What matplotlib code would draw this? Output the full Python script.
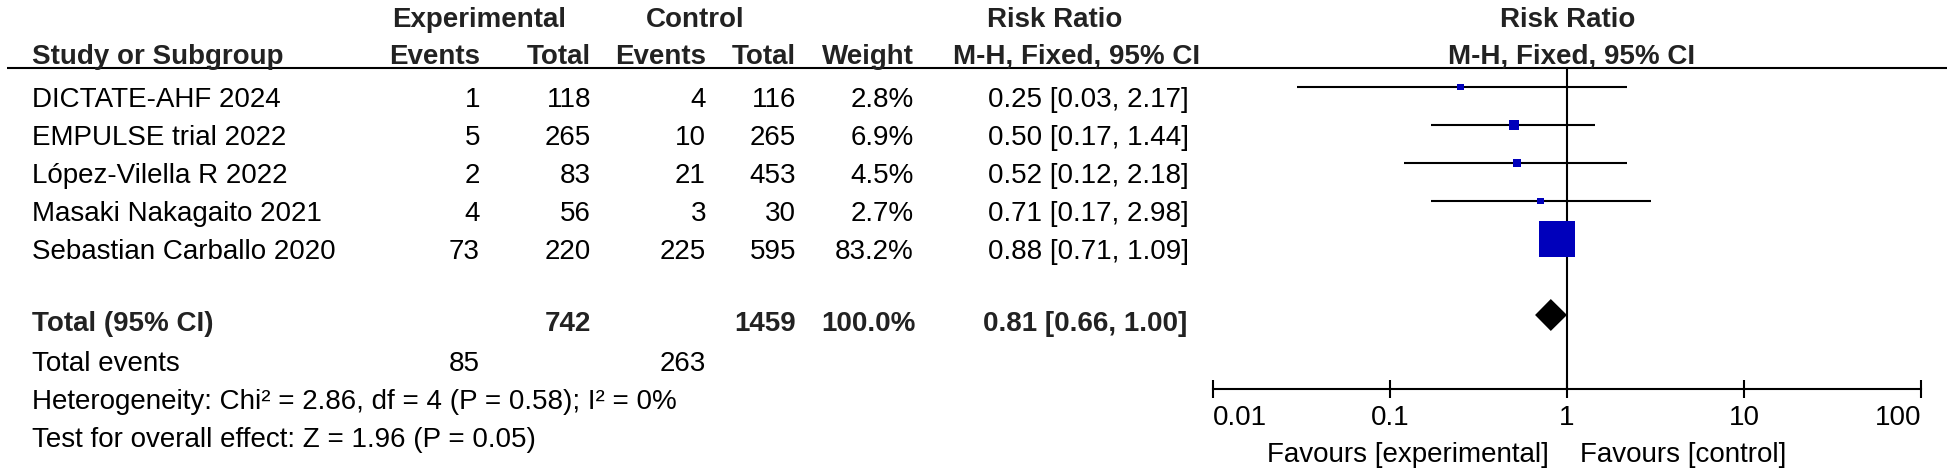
import matplotlib
matplotlib.use("Agg")
import matplotlib.pyplot as plt
import numpy as np
from matplotlib.ticker import NullLocator

plt.rcParams['font.family'] = ['Liberation Sans', 'DejaVu Sans']

# ---------------- data ----------------
studies = ["DICTATE-AHF 2024", "EMPULSE trial 2022", "López-Vilella R 2022",
           "Masaki Nakagaito 2021", "Sebastian Carballo 2020"]
exp_events = [1, 5, 2, 4, 73]
exp_total = [118, 265, 83, 56, 220]
ctrl_events = [4, 10, 21, 3, 225]
ctrl_total = [116, 265, 453, 30, 595]
weight = [2.8, 6.9, 4.5, 2.7, 83.2]
rr = [0.25, 0.50, 0.52, 0.71, 0.88]
rr_lo = [0.03, 0.17, 0.12, 0.17, 0.71]
rr_hi = [2.17, 1.44, 2.18, 2.98, 1.09]

total_exp = 742
total_ctrl = 1459
total_weight = 100.0
total_rr, total_lo, total_hi = 0.81, 0.66, 1.00
events_exp, events_ctrl = 85, 263
heterogeneity = "Heterogeneity: Chi² = 2.86, df = 4 (P = 0.58); I² = 0%"
overall = "Test for overall effect: Z = 1.96 (P = 0.05)"
tick_vals = [0.01, 0.1, 1, 10, 100]
tick_labels = ["0.01", "0.1", "1", "10", "100"]
col_headers = ["Events", "Total", "Events", "Total", "Weight"]

# ---------------- layout ----------------
W, H = 1955, 475
ROW0, ROW_H = 87, 38
HDR_Y, AX_Y = 68, 389
X0_PX, X1_PX = 1213, 1921
TOTAL_ROW = 6
FS = 20
BOLD_C = '#222222'
col_right = [480, 591, 706, 796, 914]
RR_RIGHT = 1189

fig = plt.figure(figsize=(W / 100, H / 100), dpi=100)
tab = fig.add_axes([0, 0, 1, 1])
tab.set_xlim(0, W)
tab.set_ylim(H, 0)
tab.axis('off')


def t(x, y, s, ha='left', bold=False):
    tab.text(x, y, s, ha=ha, va='baseline', fontsize=FS,
             fontweight='bold' if bold else 'normal',
             color=BOLD_C if bold else 'black')


# headers
t(479, 27, 'Experimental', 'center', True)
t(695, 27, 'Control', 'center', True)
t(1055, 27, 'Risk Ratio', 'center', True)
t(1568, 27, 'Risk Ratio', 'center', True)
t(32, 64, 'Study or Subgroup', bold=True)
for x, h in zip(col_right, col_headers):
    t(x, 64, h, 'right', True)
t(1077, 64, 'M-H, Fixed, 95% CI', 'center', True)
t(1572, 64, 'M-H, Fixed, 95% CI', 'center', True)
tab.plot([7, 1947], [HDR_Y, HDR_Y], color='black', lw=1.5,
         solid_capstyle='butt')

# study rows
for i, name in enumerate(studies):
    yb = ROW0 + ROW_H * i + 20
    t(32, yb, name)
    vals = [str(exp_events[i]), str(exp_total[i]), str(ctrl_events[i]),
            str(ctrl_total[i]), f"{weight[i]:.1f}%"]
    for x, v in zip(col_right, vals):
        t(x, yb, v, 'right')
    t(RR_RIGHT, yb, f"{rr[i]:.2f} [{rr_lo[i]:.2f}, {rr_hi[i]:.2f}]", 'right')

# totals
yb = 331
t(32, yb, 'Total (95% CI)', bold=True)
t(col_right[1], yb, str(total_exp), 'right', True)
t(col_right[3], yb, str(total_ctrl), 'right', True)
t(col_right[4] + 2, yb, f"{total_weight:.1f}%", 'right', True)
t(RR_RIGHT - 2, yb, f"{total_rr:.2f} [{total_lo:.2f}, {total_hi:.2f}]",
  'right', True)
t(32, 371, 'Total events')
t(col_right[0], 371, str(events_exp), 'right')
t(col_right[2], 371, str(events_ctrl), 'right')
t(32, 409, heterogeneity)
t(32, 447, overall)

# favours labels
t(1549, 462, 'Favours [experimental]', 'right')
t(1580, 462, 'Favours [control]', 'left')

# ---------------- forest axes ----------------
fa = fig.add_axes([X0_PX / W, (H - AX_Y) / H, (X1_PX - X0_PX) / W,
                   (AX_Y - HDR_Y) / H])
fa.patch.set_visible(False)
fa.set_xscale('log')
fa.set_xlim(tick_vals[0], tick_vals[-1])
fa.set_ylim((AX_Y - ROW0) / ROW_H, (HDR_Y - ROW0) / ROW_H)

rows = np.arange(len(studies))
fa.hlines(rows, rr_lo, rr_hi, color='black', lw=1.5, zorder=2)
side_px = 36 * np.sqrt(np.array(weight) / max(weight))
sizes = (side_px * 0.72) ** 2
fa.scatter(rr, rows, s=sizes, marker='s', color='#0000BB', linewidths=0,
           zorder=3, clip_on=False)
fa.axvline(1, color='black', lw=1.5, zorder=1)

dh = 0.42
fa.fill([total_lo, total_rr, total_hi, total_rr],
        [TOTAL_ROW, TOTAL_ROW - dh, TOTAL_ROW, TOTAL_ROW + dh],
        color='black', lw=0, zorder=3)

for s in ['top', 'left', 'right']:
    fa.spines[s].set_visible(False)
fa.spines['bottom'].set_linewidth(1.5)
fa.set_yticks([])
fa.set_xticks(tick_vals)
fa.set_xticklabels(tick_labels)
fa.xaxis.set_minor_locator(NullLocator())
fa.tick_params(axis='x', direction='inout', length=13, width=1.5, pad=5,
               labelsize=FS)
labs = fa.get_xticklabels()
labs[0].set_ha('left')
labs[-1].set_ha('right')

fig.savefig('out.png', dpi=100)
